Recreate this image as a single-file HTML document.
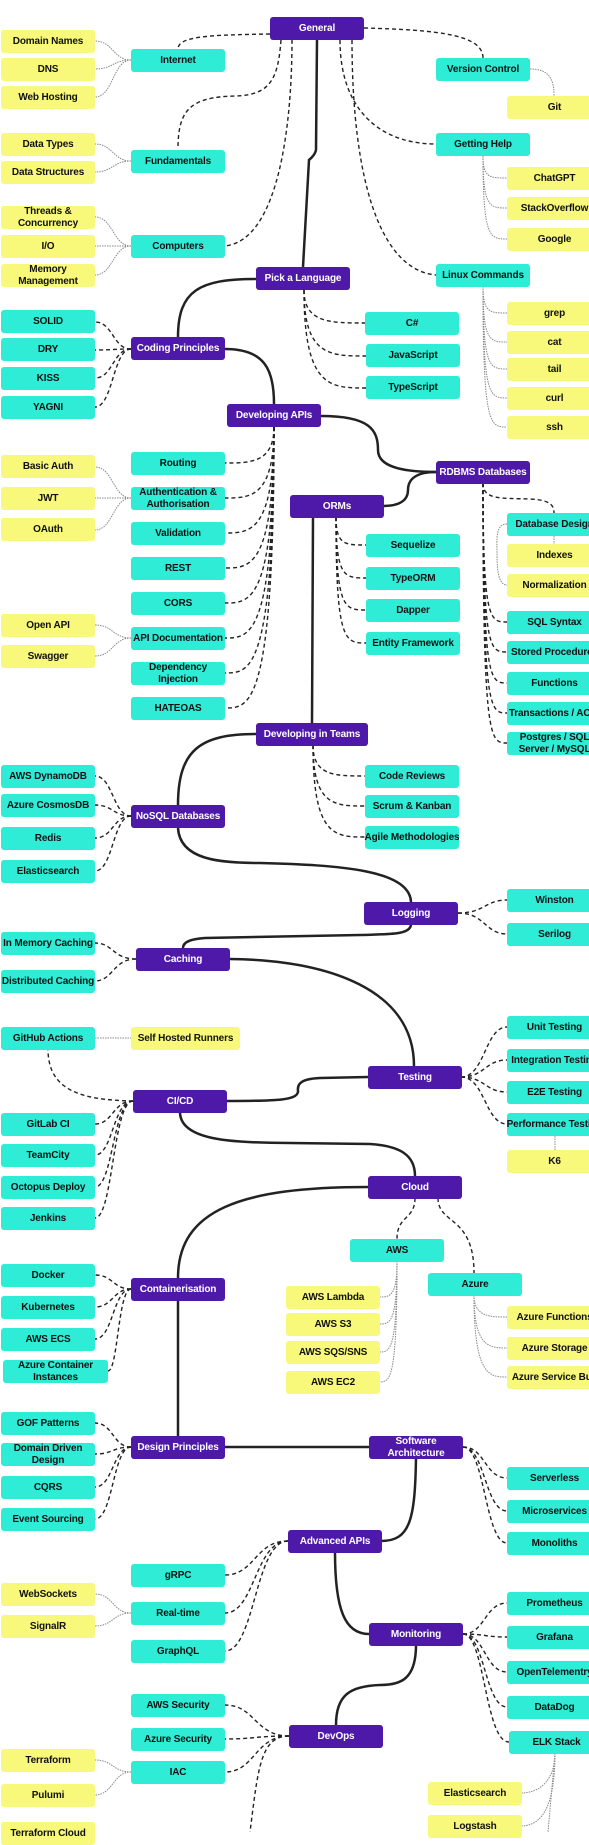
<!DOCTYPE html>
<html><head><meta charset="utf-8"><style>
html,body{margin:0;padding:0;}
body{width:589px;height:1832px;position:relative;overflow:hidden;background:#fff;font-family:"Liberation Sans",sans-serif;}
.b{position:absolute;width:94px;height:23px;border-radius:3px;display:flex;align-items:center;justify-content:center;text-align:center;font-weight:bold;font-size:10px;letter-spacing:-0.15px;line-height:12px;color:#111;box-sizing:border-box;white-space:nowrap;}
.t{background:#2eecd6;}
.y{background:#f8f87a;}
.p{background:#4e19a8;color:#fff;}
.r{width:95px;}
svg{position:absolute;left:0;top:0;}
</style></head><body>
<svg width="589" height="1832" fill="none">
<g stroke="#222" stroke-width="2.5">
<path d="M317 40 L316 150 Q315 155 309 160 L303 267"/>
<path d="M256 279 C200 279 178 290 178 337"/>
<path d="M225 349 C265 349 274 370 274 404"/>
<path d="M321 416 C370 416 378 430 378 450 C378 466 400 472 436 472"/>
<path d="M383 506 C400 506 408 500 408 490 C408 478 418 472 436 472"/>
<path d="M313 517 L312 723"/>
<path d="M256 734 C200 734 178 750 178 805"/>
<path d="M178 828 C180 860 220 863 260 863 C340 865 410 870 411 902"/>
<path d="M411 924 C411 935 390 934 360 935 L205 938 C190 939 183 942 183 948"/>
<path d="M229 959 C330 960 414 990 414 1066"/>
<path d="M368 1077 L320 1078 C295 1079 298 1088 298 1092 C296 1100 280 1101 227 1101"/>
<path d="M180 1112 C180 1140 230 1143 290 1143 L370 1144 C400 1146 415 1155 415 1176"/>
<path d="M368 1187 C240 1187 178 1210 178 1278"/>
<path d="M178 1300 L178 1436"/>
<path d="M225 1447 L369 1447"/>
<path d="M416 1458 C415 1520 410 1541 381 1541"/>
<path d="M335 1552 C335 1610 345 1634 369 1634"/>
<path d="M416 1645 C416 1680 400 1685 380 1685 C350 1686 336 1695 336 1725"/>
</g>
<g stroke="#222" stroke-width="1.4" stroke-dasharray="4 3">
<path d="M270 34 C210 35 178 36 178 49"/>
<path d="M281 40 C278 80 270 95 235 96 C190 97 178 110 178 149"/>
<path d="M292 40 C292 120 280 240 225 246"/>
<path d="M364 28 C440 30 483 35 483 58"/>
<path d="M340 40 C340 110 380 144 436 144"/>
<path d="M352 40 C352 180 380 270 436 275"/>
<path d="M304 290 C304 323 330 323 365 323"/><path d="M304 290 C304 356 330 356 366 356"/><path d="M304 290 C304 388 330 388 366 388"/>
<path d="M131 349 C113 349 113 322 95 322"/><path d="M131 349 C113 349 113 350 95 350"/><path d="M131 349 C113 349 113 378 95 378"/><path d="M131 349 C113 349 113 407 95 407"/>
<path d="M274 427 C274 463 250 463 225 463"/><path d="M274 427 C274 498 250 498 225 498"/><path d="M274 427 C274 533 250 533 225 533"/><path d="M274 427 C274 568 250 568 225 568"/><path d="M274 427 C274 603 250 603 225 603"/><path d="M274 427 C274 638 250 638 225 638"/><path d="M274 427 C274 673 250 673 225 673"/><path d="M274 427 C274 708 250 708 225 708"/>
<path d="M336 517 C336 545 345 545 366 545"/><path d="M336 517 C336 578 345 578 366 578"/><path d="M336 517 C336 610 345 610 366 610"/><path d="M336 517 C336 643 345 643 366 643"/>
<path d="M483 483 C483 500 500 498 530 499 C550 500 554 505 554 513"/>
<path d="M483 483 C483 622 490 622 507 622"/><path d="M483 483 C483 652 490 652 507 652"/><path d="M483 483 C483 683 490 683 507 683"/><path d="M483 483 C483 713 490 713 507 713"/><path d="M483 483 C483 743 490 743 507 743"/>
<path d="M313 745 C313 776 335 776 365 776"/><path d="M313 745 C313 806 335 806 365 806"/><path d="M313 745 C313 837 335 837 365 837"/>
<path d="M131 816 C113 816 113 776 95 776"/><path d="M131 816 C113 816 113 805 95 805"/><path d="M131 816 C113 816 113 838 95 838"/><path d="M131 816 C113 816 113 871 95 871"/>
<path d="M458 913 C485 913 485 900 507 900"/><path d="M458 913 C485 913 485 934 507 934"/>
<path d="M136 959 C113 959 113 943 95 943"/><path d="M136 959 C113 959 113 981 95 981"/>
<path d="M133 1101 C80 1100 48 1090 48 1049"/>
<path d="M133 1101 C113 1101 113 1124 95 1124"/><path d="M133 1101 C113 1101 113 1155 95 1155"/><path d="M133 1101 C113 1101 113 1187 95 1187"/><path d="M133 1101 C113 1101 113 1218 95 1218"/>
<path d="M461 1077 C485 1077 485 1027 507 1027"/><path d="M461 1077 C485 1077 485 1060 507 1060"/><path d="M461 1077 C485 1077 485 1092 507 1092"/><path d="M461 1077 C485 1077 485 1124 507 1124"/>
<path d="M415 1198 C415 1220 397 1215 397 1239"/><path d="M438 1198 C438 1225 474 1215 474 1273"/>
<path d="M131 1289 C113 1289 113 1275 95 1275"/><path d="M131 1289 C113 1289 113 1307 95 1307"/><path d="M131 1289 C113 1289 113 1339 95 1339"/><path d="M131 1289 C118 1289 118 1371 108 1371"/>
<path d="M131 1447 C113 1447 113 1423 95 1423"/><path d="M131 1447 C113 1447 113 1454 95 1454"/><path d="M131 1447 C113 1447 113 1487 95 1487"/><path d="M131 1447 C113 1447 113 1519 95 1519"/>
<path d="M463 1447 C485 1447 485 1478 507 1478"/><path d="M463 1447 C485 1447 485 1511 507 1511"/><path d="M463 1447 C485 1447 485 1543 507 1543"/>
<path d="M288 1541 C255 1541 255 1575 225 1575"/><path d="M288 1541 C255 1541 255 1613 225 1613"/><path d="M288 1541 C255 1541 255 1651 225 1651"/>
<path d="M463 1634 C485 1634 485 1603 507 1603"/><path d="M463 1634 C485 1634 485 1637 507 1637"/><path d="M463 1634 C485 1634 485 1672 507 1672"/><path d="M463 1634 C485 1634 485 1707 507 1707"/><path d="M463 1634 C485 1634 485 1742 509 1742"/>
<path d="M289 1736 C255 1736 255 1705 225 1705"/><path d="M289 1736 C255 1736 255 1739 225 1739"/><path d="M289 1736 C255 1736 255 1772 225 1772"/><path d="M289 1736 C260 1736 258 1770 250 1832"/>
</g>
<g stroke="#888" stroke-width="1" stroke-dasharray="1.5 1">
<path d="M131 60 C113 60 113 41 95 41"/><path d="M131 60 C113 60 113 69 95 69"/><path d="M131 60 C113 60 113 97 95 97"/>
<path d="M131 161 C113 161 113 144 95 144"/><path d="M131 161 C113 161 113 172 95 172"/>
<path d="M131 246 C113 246 113 217 95 217"/><path d="M131 246 L95 246"/><path d="M131 246 C113 246 113 275 95 275"/>
<path d="M530 69 C550 69 554 80 554 96"/>
<path d="M483 156 C483 178 490 178 507 178"/><path d="M483 156 C483 208 490 208 507 208"/><path d="M483 156 C483 239 490 239 507 239"/>
<path d="M483 286 C483 313 490 313 507 313"/><path d="M483 286 C483 342 490 342 507 342"/><path d="M483 286 C483 369 490 369 507 369"/><path d="M483 286 C483 398 490 398 507 398"/><path d="M483 286 C483 427 490 427 507 427"/>
<path d="M131 498 C113 498 113 467 95 467"/><path d="M131 498 L95 498"/><path d="M131 498 C113 498 113 530 95 530"/>
<path d="M131 638 C113 638 113 625 95 625"/><path d="M131 638 C113 638 113 656 95 656"/>
<path d="M507 524 C495 524 497 540 497 555 C497 575 500 585 507 585"/><path d="M554 536 L554 544"/>
<path d="M95 1038 L131 1038"/>
<path d="M555 1136 L555 1150"/>
<path d="M397 1261 C397 1297 390 1297 379 1297"/><path d="M397 1261 C397 1324 390 1324 379 1324"/><path d="M397 1261 C397 1352 390 1352 379 1352"/><path d="M397 1261 C397 1382 390 1382 379 1382"/>
<path d="M474 1295 C474 1317 490 1317 507 1317"/><path d="M474 1295 C474 1348 490 1348 507 1348"/><path d="M474 1295 C474 1377 490 1377 507 1377"/>
<path d="M131 1613 C113 1613 113 1594 95 1594"/><path d="M131 1613 C113 1613 113 1626 95 1626"/>
<path d="M131 1772 C113 1772 113 1760 95 1760"/><path d="M131 1772 C113 1772 113 1795 95 1795"/>
<path d="M555 1753 C555 1780 540 1793 521 1793"/><path d="M555 1753 C555 1800 545 1826 521 1826"/><path d="M555 1753 L548 1832"/>
</g>
</svg>

<div class="b p" style="left:270px;top:17px">General</div>
<div class="b y" style="left:1px;top:30px">Domain Names</div>
<div class="b y" style="left:1px;top:58px">DNS</div>
<div class="b y" style="left:1px;top:86px">Web Hosting</div>
<div class="b t" style="left:131px;top:49px">Internet</div>
<div class="b t" style="left:436px;top:58px">Version Control</div>
<div class="b y r" style="left:507px;top:96px">Git</div>
<div class="b y" style="left:1px;top:133px">Data Types</div>
<div class="b y" style="left:1px;top:161px">Data Structures</div>
<div class="b t" style="left:131px;top:150px">Fundamentals</div>
<div class="b t" style="left:436px;top:133px">Getting Help</div>
<div class="b y r" style="left:507px;top:167px">ChatGPT</div>
<div class="b y r" style="left:507px;top:197px">StackOverflow</div>
<div class="b y r" style="left:507px;top:228px">Google</div>
<div class="b y" style="left:1px;top:206px">Threads &amp;<br>Concurrency</div>
<div class="b y" style="left:1px;top:235px">I/O</div>
<div class="b y" style="left:1px;top:264px">Memory<br>Management</div>
<div class="b t" style="left:131px;top:235px">Computers</div>
<div class="b t" style="left:436px;top:264px">Linux Commands</div>
<div class="b p" style="left:256px;top:267px">Pick a Language</div>
<div class="b y r" style="left:507px;top:302px">grep</div>
<div class="b y r" style="left:507px;top:331px">cat</div>
<div class="b y r" style="left:507px;top:358px">tail</div>
<div class="b y r" style="left:507px;top:387px">curl</div>
<div class="b y r" style="left:507px;top:416px">ssh</div>
<div class="b t" style="left:1px;top:310px">SOLID</div>
<div class="b t" style="left:1px;top:338px">DRY</div>
<div class="b t" style="left:1px;top:367px">KISS</div>
<div class="b t" style="left:1px;top:396px">YAGNI</div>
<div class="b p" style="left:131px;top:337px">Coding Principles</div>
<div class="b t" style="left:365px;top:312px">C#</div>
<div class="b t" style="left:366px;top:344px">JavaScript</div>
<div class="b t" style="left:366px;top:376px">TypeScript</div>
<div class="b p" style="left:227px;top:404px">Developing APIs</div>

<div class="b y" style="left:1px;top:455px">Basic Auth</div>
<div class="b y" style="left:1px;top:487px">JWT</div>
<div class="b y" style="left:1px;top:518px">OAuth</div>
<div class="b t" style="left:131px;top:452px">Routing</div>
<div class="b t" style="left:131px;top:487px">Authentication &amp;<br>Authorisation</div>
<div class="b t" style="left:131px;top:522px">Validation</div>
<div class="b t" style="left:131px;top:557px">REST</div>
<div class="b t" style="left:131px;top:592px">CORS</div>
<div class="b t" style="left:131px;top:627px">API Documentation</div>
<div class="b t" style="left:131px;top:662px">Dependency<br>Injection</div>
<div class="b t" style="left:131px;top:697px">HATEOAS</div>
<div class="b y" style="left:1px;top:614px">Open API</div>
<div class="b y" style="left:1px;top:645px">Swagger</div>
<div class="b p" style="left:436px;top:461px">RDBMS Databases</div>
<div class="b p" style="left:290px;top:495px">ORMs</div>
<div class="b t" style="left:366px;top:534px">Sequelize</div>
<div class="b t" style="left:366px;top:567px">TypeORM</div>
<div class="b t" style="left:366px;top:599px">Dapper</div>
<div class="b t" style="left:366px;top:632px">Entity Framework</div>
<div class="b t r" style="left:507px;top:513px">Database Design</div>
<div class="b y r" style="left:507px;top:544px">Indexes</div>
<div class="b y r" style="left:507px;top:574px">Normalization</div>
<div class="b t r" style="left:507px;top:611px">SQL Syntax</div>
<div class="b t r" style="left:507px;top:641px">Stored Procedures</div>
<div class="b t r" style="left:507px;top:672px">Functions</div>
<div class="b t r" style="left:507px;top:702px">Transactions / ACID</div>
<div class="b t r" style="left:507px;top:732px">Postgres / SQL<br>Server / MySQL</div>
<div class="b p" style="left:256px;top:723px;width:112px">Developing in Teams</div>
<div class="b t" style="left:365px;top:765px">Code Reviews</div>
<div class="b t" style="left:365px;top:795px">Scrum &amp; Kanban</div>
<div class="b t" style="left:365px;top:826px">Agile Methodologies</div>
<div class="b t" style="left:1px;top:765px">AWS DynamoDB</div>
<div class="b t" style="left:1px;top:794px">Azure CosmosDB</div>
<div class="b t" style="left:1px;top:827px">Redis</div>
<div class="b t" style="left:1px;top:860px">Elasticsearch</div>
<div class="b p" style="left:131px;top:805px">NoSQL Databases</div>

<div class="b p" style="left:364px;top:902px">Logging</div>
<div class="b t r" style="left:507px;top:889px">Winston</div>
<div class="b t r" style="left:507px;top:923px">Serilog</div>
<div class="b t" style="left:1px;top:932px">In Memory Caching</div>
<div class="b t" style="left:1px;top:970px">Distributed Caching</div>
<div class="b p" style="left:136px;top:948px">Caching</div>
<div class="b t" style="left:1px;top:1027px">GitHub Actions</div>
<div class="b y" style="left:131px;top:1027px;width:109px">Self Hosted Runners</div>
<div class="b p" style="left:368px;top:1066px">Testing</div>
<div class="b t r" style="left:507px;top:1016px">Unit Testing</div>
<div class="b t r" style="left:507px;top:1049px">Integration Testing</div>
<div class="b t r" style="left:507px;top:1081px">E2E Testing</div>
<div class="b t r" style="left:507px;top:1113px">Performance Testing</div>
<div class="b y r" style="left:507px;top:1150px">K6</div>
<div class="b p" style="left:133px;top:1090px">CI/CD</div>
<div class="b t" style="left:1px;top:1113px">GitLab CI</div>
<div class="b t" style="left:1px;top:1144px">TeamCity</div>
<div class="b t" style="left:1px;top:1176px">Octopus Deploy</div>
<div class="b t" style="left:1px;top:1207px">Jenkins</div>
<div class="b p" style="left:368px;top:1176px">Cloud</div>
<div class="b t" style="left:350px;top:1239px">AWS</div>
<div class="b t" style="left:428px;top:1273px">Azure</div>
<div class="b y" style="left:286px;top:1286px">AWS Lambda</div>
<div class="b y" style="left:286px;top:1313px">AWS S3</div>
<div class="b y" style="left:286px;top:1341px">AWS SQS/SNS</div>
<div class="b y" style="left:286px;top:1371px">AWS EC2</div>
<div class="b y r" style="left:507px;top:1306px">Azure Functions</div>
<div class="b y r" style="left:507px;top:1337px">Azure Storage</div>
<div class="b y r" style="left:507px;top:1366px">Azure Service Bus</div>
<div class="b t" style="left:1px;top:1264px">Docker</div>
<div class="b t" style="left:1px;top:1296px">Kubernetes</div>
<div class="b t" style="left:1px;top:1328px">AWS ECS</div>
<div class="b t" style="left:3px;top:1360px;width:105px">Azure Container<br>Instances</div>
<div class="b p" style="left:131px;top:1278px">Containerisation</div>

<div class="b t" style="left:1px;top:1412px">GOF Patterns</div>
<div class="b t" style="left:1px;top:1443px">Domain Driven<br>Design</div>
<div class="b t" style="left:1px;top:1476px">CQRS</div>
<div class="b t" style="left:1px;top:1508px">Event Sourcing</div>
<div class="b p" style="left:131px;top:1436px">Design Principles</div>
<div class="b p" style="left:369px;top:1436px">Software<br>Architecture</div>
<div class="b t r" style="left:507px;top:1467px">Serverless</div>
<div class="b t r" style="left:507px;top:1500px">Microservices</div>
<div class="b t r" style="left:507px;top:1532px">Monoliths</div>
<div class="b p" style="left:288px;top:1530px">Advanced APIs</div>
<div class="b t" style="left:131px;top:1564px">gRPC</div>
<div class="b t" style="left:131px;top:1602px">Real-time</div>
<div class="b t" style="left:131px;top:1640px">GraphQL</div>
<div class="b y" style="left:1px;top:1583px">WebSockets</div>
<div class="b y" style="left:1px;top:1615px">SignalR</div>
<div class="b p" style="left:369px;top:1623px">Monitoring</div>
<div class="b t r" style="left:507px;top:1592px">Prometheus</div>
<div class="b t r" style="left:507px;top:1626px">Grafana</div>
<div class="b t r" style="left:507px;top:1661px">OpenTelementry</div>
<div class="b t r" style="left:507px;top:1696px">DataDog</div>
<div class="b t r" style="left:509px;top:1731px">ELK Stack</div>
<div class="b t" style="left:131px;top:1694px">AWS Security</div>
<div class="b t" style="left:131px;top:1728px">Azure Security</div>
<div class="b t" style="left:131px;top:1761px">IAC</div>
<div class="b p" style="left:289px;top:1725px">DevOps</div>
<div class="b y" style="left:1px;top:1749px">Terraform</div>
<div class="b y" style="left:1px;top:1784px">Pulumi</div>
<div class="b y" style="left:1px;top:1822px">Terraform Cloud</div>
<div class="b y" style="left:428px;top:1782px">Elasticsearch</div>
<div class="b y" style="left:428px;top:1815px">Logstash</div>
</body></html>
